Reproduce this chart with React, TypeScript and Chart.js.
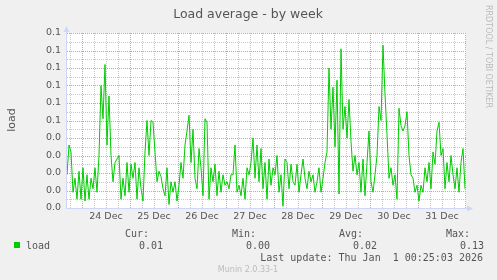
import { useEffect, useRef } from 'react';
import { Chart, registerables } from 'chart.js';

Chart.register(...registerables);

// Hours counted from 23 Dec 00:00; one sample per hour
const startHour = 16;
const endHour = 216;

const loadValues = [
  0.019, 0.036, 0.032, 0.009, 0.017, 0.005, 0.021, 0.005, 0.023, 0.004,
  0.019, 0.005, 0.017, 0.011, 0.023, 0.009, 0.030, 0.070, 0.051, 0.082,
  0.036, 0.064, 0.030, 0.015, 0.026, 0.028, 0.030, 0.005, 0.017, 0.007,
  0.026, 0.009, 0.025, 0.017, 0.026, 0.005, 0.023, 0.011, 0.004, 0.032,
  0.050, 0.030, 0.050, 0.049, 0.032, 0.015, 0.021, 0.018, 0.011, 0.007,
  0.023, 0.002, 0.015, 0.009, 0.015, 0.004, 0.013, 0.026, 0.017, 0.036,
  0.044, 0.053, 0.026, 0.045, 0.017, 0.011, 0.034, 0.023, 0.007, 0.051,
  0.049, 0.005, 0.023, 0.015, 0.025, 0.007, 0.021, 0.009, 0.019, 0.013,
  0.015, 0.011, 0.019, 0.019, 0.036, 0.009, 0.013, 0.007, 0.017, 0.005,
  0.023, 0.019, 0.026, 0.040, 0.017, 0.036, 0.015, 0.034, 0.011, 0.026,
  0.005, 0.028, 0.013, 0.023, 0.019, 0.030, 0.009, 0.019, 0.001, 0.028,
  0.026, 0.011, 0.025, 0.015, 0.013, 0.025, 0.009, 0.019, 0.028, 0.017,
  0.011, 0.021, 0.015, 0.019, 0.009, 0.015, 0.023, 0.009, 0.017, 0.026,
  0.032, 0.080, 0.045, 0.069, 0.035, 0.073, 0.008, 0.091, 0.045, 0.058,
  0.040, 0.062, 0.038, 0.021, 0.030, 0.019, 0.026, 0.009, 0.028, 0.007,
  0.026, 0.044, 0.015, 0.009, 0.019, 0.030, 0.058, 0.050, 0.093, 0.065,
  0.042, 0.017, 0.023, 0.013, 0.019, 0.005, 0.057, 0.047, 0.044, 0.047,
  0.055, 0.030, 0.019, 0.017, 0.009, 0.013, 0.004, 0.013, 0.009, 0.023,
  0.015, 0.026, 0.011, 0.032, 0.025, 0.044, 0.049, 0.030, 0.034, 0.011,
  0.026, 0.015, 0.030, 0.019, 0.011, 0.023, 0.009, 0.026, 0.034, 0.011,
];

const dayLabels = ['24 Dec', '25 Dec', '26 Dec', '27 Dec', '28 Dec', '29 Dec', '30 Dec', '31 Dec'];
const yTickLabels = ['0.0', '0.0', '0.0', '0.0', '0.0', '0.1', '0.1', '0.1', '0.1', '0.1', '0.1'];
const statNames = ['Cur:', 'Min:', 'Avg:', 'Max:'];
const statValues = ['0.01', '0.00', '0.02', '0.13'];
const seriesName = 'load';
const titleText = 'Load average - by week';
const lastUpdate = 'Last update: Thu Jan  1 00:25:03 2026';

const LINE = '#00cc00';
const MAJOR = 'rgb(236,150,150)';
const MINOR = 'rgb(200,200,200)';
const AXIS = '#cfd6f8';
const FONT = '#555555';

const decor = {
  id: 'munin',
  beforeDraw(chart: any) {
    const { ctx, chartArea: a } = chart;
    ctx.save();
    ctx.fillStyle = '#f0f0f0';
    ctx.fillRect(0, 0, chart.width, chart.height);
    ctx.fillStyle = '#ffffff';
    ctx.fillRect(a.left, a.top, a.right - a.left, a.bottom - a.top);
    ctx.restore();
  },
  beforeDatasetsDraw(chart: any) {
    const { ctx, chartArea: a, scales } = chart;
    const top = Math.round(a.top);
    const bottom = Math.round(a.bottom);
    const left = Math.round(a.left);
    const right = Math.round(a.right);
    ctx.save();
    const vline = (x: number, color: string) => {
      ctx.fillStyle = color;
      for (let y = top; y < bottom; y += 2) ctx.fillRect(x, y, 1, 1);
    };
    const hline = (y: number, color: string) => {
      ctx.fillStyle = color;
      for (let x = left + 1; x <= right; x += 2) ctx.fillRect(x, y, 1, 1);
    };
    const xt = scales.x.ticks.map((t: any) => t.value);
    const yt = scales.y.ticks.map((t: any) => t.value);
    // minor first
    xt.forEach((v: number) => {
      if (v % 24 !== 0) vline(Math.round(scales.x.getPixelForValue(v)), MINOR);
    });
    yt.forEach((v: number, i: number) => {
      if (i % 2 === 1) hline(Math.round(scales.y.getPixelForValue(v)), MINOR);
    });
    xt.forEach((v: number) => {
      if (v % 24 === 0) vline(Math.min(Math.round(scales.x.getPixelForValue(v)), right - 1), MAJOR);
    });
    yt.forEach((v: number, i: number) => {
      if (i % 2 === 0 && i > 0) hline(Math.round(scales.y.getPixelForValue(v)), MAJOR);
    });
    ctx.restore();
  },
  afterDatasetsDraw(chart: any) {
    const { ctx, chartArea: a } = chart;
    ctx.save();
    ctx.strokeStyle = AXIS;
    ctx.fillStyle = AXIS;
    ctx.lineWidth = 1;
    ctx.beginPath();
    ctx.moveTo(a.left + 0.5, a.bottom);
    ctx.lineTo(a.left + 0.5, a.top - 4);
    ctx.moveTo(a.left, a.bottom + 0.5);
    ctx.lineTo(a.right + 4, a.bottom + 0.5);
    ctx.stroke();
    ctx.beginPath();
    ctx.moveTo(a.left - 2.5, a.top - 1);
    ctx.lineTo(a.left + 3.5, a.top - 1);
    ctx.lineTo(a.left + 0.5, a.top - 7);
    ctx.closePath();
    ctx.fill();
    ctx.beginPath();
    ctx.moveTo(a.right + 1, a.bottom - 2.5);
    ctx.lineTo(a.right + 1, a.bottom + 3.5);
    ctx.lineTo(a.right + 7, a.bottom + 0.5);
    ctx.closePath();
    ctx.fill();
    ctx.restore();
  },
  afterDraw(chart: any) {
    const { ctx } = chart;
    ctx.save();
    ctx.fillStyle = FONT;
    ctx.textBaseline = 'alphabetic';
    ctx.font = '12.5px "DejaVu Sans"';
    ctx.textAlign = 'center';
    ctx.fillText(titleText, 248, 18);

    ctx.save();
    ctx.translate(15, 120);
    ctx.rotate(-Math.PI / 2);
    ctx.font = '11px "DejaVu Sans"';
    ctx.textAlign = 'center';
    ctx.fillText(seriesName, 0, 0);
    ctx.restore();

    ctx.save();
    ctx.translate(486, 5);
    ctx.rotate(Math.PI / 2);
    ctx.font = '8px "DejaVu Sans"';
    ctx.fillStyle = '#bbbbbb';
    ctx.textAlign = 'left';
    ctx.fillText('RRDTOOL / TOBI OETIKER', 0, 0);
    ctx.restore();

    ctx.fillStyle = LINE;
    ctx.fillRect(14, 242, 6, 6);
    ctx.fillStyle = FONT;
    ctx.font = '10px "DejaVu Sans Mono"';
    ctx.textAlign = 'left';
    ctx.fillText(seriesName, 26, 249);
    ctx.textAlign = 'right';
    statNames.forEach((n, i) => {
      ctx.fillText(n, 149 + i * 107, 237);
      ctx.fillText(statValues[i], 163 + i * 107, 249);
    });
    ctx.fillText(lastUpdate, 483, 261);

    ctx.font = '8px "DejaVu Sans"';
    ctx.fillStyle = '#bbbbbb';
    ctx.textAlign = 'center';
    ctx.fillText('Munin 2.0.33-1', 248, 272);
    ctx.restore();
  },
};

export default function App() {
  const ref = useRef<HTMLCanvasElement | null>(null);

  useEffect(() => {
    document.body.style.margin = '0';
    const canvas = ref.current;
    if (!canvas) return;
    const chart = new Chart(canvas, {
      type: 'line',
      data: {
        datasets: [
          {
            label: seriesName,
            data: loadValues.map((v, i) => ({ x: startHour + i + 0.5, y: v })),
            borderColor: LINE,
            borderWidth: 1,
            pointRadius: 0,
            tension: 0,
            fill: false,
          },
        ],
      },
      options: {
        animation: false,
        responsive: false,
        devicePixelRatio: 1,
        layout: { padding: { top: 33, right: 31, left: 0, bottom: 0 } },
        plugins: { legend: { display: false }, tooltip: { enabled: false }, title: { display: false } },
        scales: {
          x: {
            type: 'linear',
            min: startHour,
            max: endHour,
            afterBuildTicks: (s: any) => {
              const t: any[] = [];
              for (let h = 18; h <= endHour; h += 6) t.push({ value: h });
              s.ticks = t;
            },
            afterFit: (s: any) => {
              s.height = 72;
              s.paddingLeft = 0;
              s.paddingRight = 0;
            },
            grid: { display: false, drawTicks: false },
            border: { display: false },
            ticks: {
              autoSkip: false,
              maxRotation: 0,
              minRotation: 0,
              padding: 3,
              color: FONT,
              font: { family: 'DejaVu Sans', size: 9.5 },
              callback: (v: any) => {
                const n = Number(v);
                if ((n - 12) % 24 !== 0) return '';
                return dayLabels[(n - 36) / 24] ?? '';
              },
            },
          },
          y: {
            type: 'linear',
            min: 0,
            max: 0.1,
            afterBuildTicks: (s: any) => {
              const t: any[] = [];
              for (let i = 0; i <= 20; i++) t.push({ value: i * 0.005 });
              s.ticks = t;
            },
            afterFit: (s: any) => {
              s.width = 66;
              s.paddingTop = 0;
              s.paddingBottom = 0;
            },
            grid: { display: false, drawTicks: false },
            border: { display: false },
            ticks: {
              autoSkip: false,
              padding: 5,
              color: FONT,
              font: { family: 'DejaVu Sans', size: 9.5 },
              callback: (_v: any, i: number) => (i % 2 === 0 ? yTickLabels[i / 2] : ''),
            },
          },
        },
      },
      plugins: [decor],
    });
    return () => chart.destroy();
  }, []);

  return (
    <div style={{ position: 'fixed', left: 0, top: 0, width: 497, height: 280, background: '#f0f0f0' }}>
      <canvas ref={ref} width={497} height={280} style={{ display: 'block' }} />
    </div>
  );
}
